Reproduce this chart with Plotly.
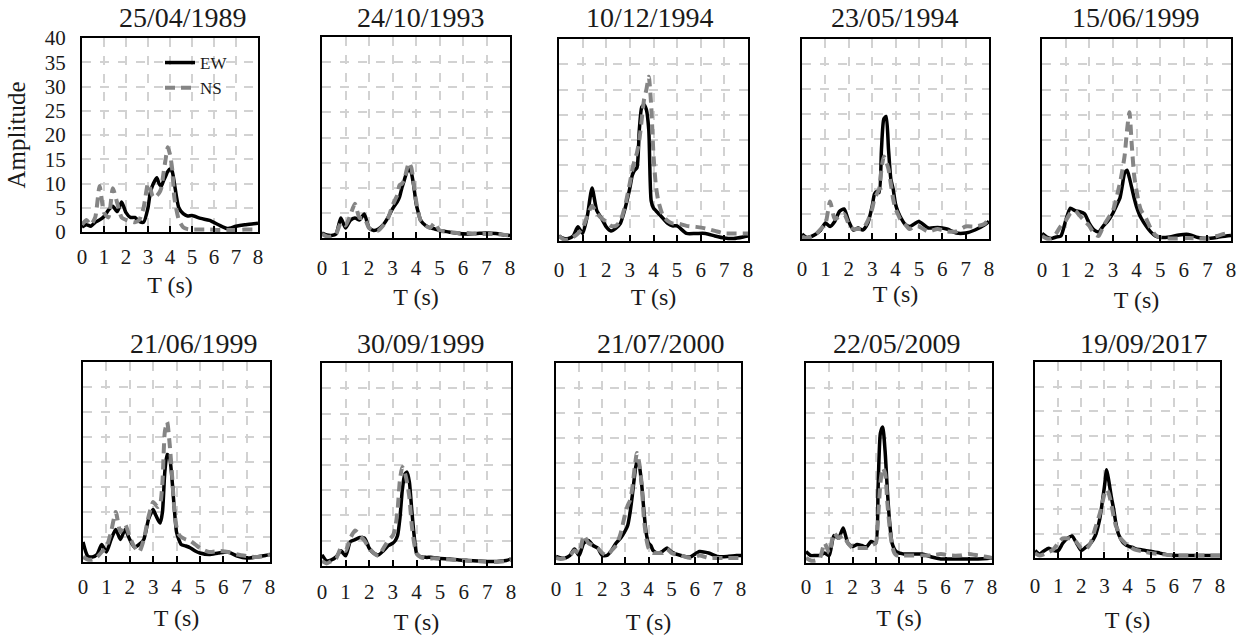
import plotly.graph_objects as go

# ---------------- data ----------------
T = [0, 0.2, 0.4, 0.6, 0.8, 1.0, 1.2, 1.4, 1.6, 1.8, 2.0, 2.2, 2.4, 2.6, 2.8,
     3.0, 3.1, 3.2, 3.3, 3.4, 3.5, 3.6, 3.7, 3.8, 3.9, 4.0, 4.1, 4.2,
     4.4, 4.6, 4.8, 5.0, 5.4, 5.8, 6.2, 6.6, 7.0, 7.4, 7.8, 8.0]

dates = ["25/04/1989", "24/10/1993", "10/12/1994", "23/05/1994", "15/06/1999",
         "21/06/1999", "30/09/1999", "21/07/2000", "22/05/2009", "19/09/2017"]

x_ticks = [0, 1, 2, 3, 4, 5, 6, 7, 8]
y_ticks = [0, 5, 10, 15, 20, 25, 30, 35, 40]

EW_1989 = [1.0, 1.5, 1.2, 2.0, 2.5, 3.2, 4.5, 5.3, 4.2, 6.2, 4.0, 3.0, 3.0, 2.2, 2.0,
           5.0, 8.0, 9.5, 10.5, 11.2, 10.0, 9.4, 10.5, 11.5, 12.5, 13.0, 12.5, 10.0,
           5.0, 3.8, 3.3, 3.4, 2.8, 2.4, 1.5, 0.7, 1.2, 1.5, 1.7, 1.8]
NS_1989 = [1.5, 2.5, 1.5, 3.0, 9.5, 4.0, 3.0, 9.0, 6.0, 3.0, 2.5, 2.2, 2.0, 2.5, 5.0,
           10.0, 9.0, 7.5, 7.0, 7.5, 8.0, 9.0, 12.0, 15.0, 17.5, 16.0, 13.0, 7.0,
           2.5, 1.0, 0.6, 0.5, 0.5, 0.5, 0.4, 0.4, 0.4, 0.5, 0.5, 0.5]

EW_1993 = [1.0, 0.6, 0.5, 0.8, 4.0, 2.0, 3.5, 4.0, 3.6, 4.8, 2.0, 1.5, 1.8, 2.6, 4.0,
           5.8, 6.5, 7.2, 8.2, 10.0, 11.5, 13.0, 13.9, 13.0, 10.5, 7.0, 5.0, 3.5,
           2.5, 2.0, 1.8, 1.5, 1.2, 0.9, 0.8, 0.9, 1.0, 0.9, 0.6, 0.5]
NS_1993 = [0.8, 0.3, 0.3, 0.8, 3.0, 2.5, 4.5, 6.8, 4.0, 4.0, 2.0, 1.5, 1.5, 2.5, 3.8,
           6.5, 7.5, 8.5, 10.5, 10.8, 11.5, 13.5, 15.0, 14.0, 11.0, 7.5, 5.0, 3.5,
           2.5, 2.0, 3.0, 1.5, 1.2, 1.0, 1.0, 0.8, 0.8, 0.8, 0.6, 0.5]

EW_1994a = [1.0, 0.5, 0.5, 1.0, 2.8, 1.5, 5.0, 10.5, 6.0, 4.5, 2.8, 2.0, 2.5, 3.5, 6.5,
            10.5, 13.0, 14.0, 14.5, 22.0, 26.5, 27.0, 26.0, 22.0, 8.0, 6.5, 6.0, 5.5,
            4.5, 3.5, 3.0, 3.0, 1.5, 1.5, 1.5, 1.0, 0.6, 0.5, 0.8, 1.0]
NS_1994a = [1.0, 0.3, 0.3, 0.8, 1.5, 2.5, 5.0, 7.0, 5.5, 4.5, 3.8, 3.0, 3.0, 4.0, 7.0,
            11.5, 14.0, 16.0, 17.5, 20.0, 24.0, 28.0, 30.0, 32.5, 27.0, 17.0, 11.0, 8.0,
            5.0, 4.0, 3.5, 3.5, 3.0, 2.8, 2.5, 2.0, 1.5, 1.5, 1.5, 1.5]

EW_1994b = [1.0, 0.3, 0.5, 1.0, 1.8, 3.2, 2.5, 3.5, 5.5, 6.0, 3.5, 1.8, 2.2, 1.8, 3.0,
            6.5, 9.0, 9.5, 9.3, 18.0, 24.0, 24.5, 18.0, 12.0, 10.0, 7.0, 5.5, 4.5,
            3.0, 2.5, 3.0, 3.5, 2.2, 2.3, 2.0, 1.2, 1.2, 1.8, 2.8, 3.5]
NS_1994b = [0.5, 0.2, 0.5, 1.0, 2.0, 3.0, 7.5, 4.0, 4.5, 5.0, 3.0, 2.0, 2.0, 2.0, 3.5,
            6.0, 8.0, 9.0, 10.0, 14.0, 16.5, 15.5, 14.0, 11.0, 8.0, 6.0, 5.0, 4.0,
            3.0, 2.0, 2.5, 2.5, 1.5, 2.0, 1.5, 1.5, 2.5, 2.5, 3.0, 4.0]

EW_1999a = [1.5, 0.8, 0.5, 0.8, 1.0, 4.0, 6.5, 6.0, 5.8, 5.4, 3.5, 2.2, 1.8, 3.0, 4.0,
            5.5, 6.5, 7.5, 8.5, 11.0, 13.5, 14.0, 12.5, 10.5, 8.5, 6.8, 5.5, 4.5,
            3.0, 1.8, 1.0, 0.7, 0.8, 1.2, 1.3, 0.7, 0.5, 0.7, 1.0, 1.1]
NS_1999a = [1.0, 0.5, 0.5, 1.5, 3.0, 4.0, 5.5, 6.0, 5.0, 4.0, 3.0, 1.5, 1.0, 3.0, 4.5,
            6.0, 7.5, 9.5, 11.5, 14.0, 17.0, 22.0, 25.5, 19.0, 13.0, 10.0, 7.5, 6.0,
            4.5, 2.5, 1.2, 0.7, 0.5, 0.5, 0.6, 0.5, 0.5, 1.0, 1.5, 1.5]

EW_1999b = [4.0, 1.2, 1.0, 1.5, 3.5, 2.0, 4.5, 6.5, 4.5, 6.5, 4.5, 3.0, 3.5, 4.5, 8.5,
            10.5, 9.5, 8.5, 7.8, 10.0, 18.0, 21.5, 21.0, 17.0, 11.0, 6.0, 4.5, 3.5,
            3.2, 2.8, 2.2, 1.8, 1.5, 1.8, 2.0, 1.2, 0.8, 1.0, 1.3, 1.5]
NS_1999b = [1.0, 0.5, 0.5, 1.0, 2.0, 3.0, 6.0, 10.0, 6.0, 7.5, 5.0, 3.0, 2.0, 4.5, 9.0,
            12.0, 11.5, 11.0, 11.5, 16.0, 26.0, 28.0, 24.0, 18.0, 11.0, 7.0, 5.5, 5.0,
            4.5, 4.2, 3.5, 2.8, 2.0, 2.2, 2.0, 1.5, 1.2, 1.0, 1.2, 1.5]

EW_1999c = [2.2, 1.0, 1.2, 1.8, 3.0, 2.0, 4.8, 5.2, 5.6, 5.5, 3.5, 2.5, 2.2, 3.0, 4.0,
            4.5, 5.0, 6.0, 9.5, 15.0, 18.0, 18.5, 16.5, 11.0, 6.0, 2.5, 2.0, 1.8,
            1.7, 1.7, 1.6, 1.5, 1.4, 1.2, 1.1, 1.0, 0.9, 0.9, 1.1, 1.4]
NS_1999c = [1.0, 0.5, 1.0, 1.5, 3.5, 3.0, 5.5, 7.0, 6.0, 5.0, 3.5, 2.5, 2.0, 3.5, 5.0,
            6.0, 7.5, 11.0, 17.0, 19.5, 18.5, 16.5, 13.5, 8.0, 4.5, 2.5, 2.0, 1.7,
            1.5, 1.5, 1.5, 1.4, 1.3, 1.1, 1.0, 1.0, 0.8, 0.8, 1.0, 1.2]

EW_2000 = [1.3, 1.0, 1.0, 1.5, 2.8, 1.5, 4.0, 4.5, 3.5, 3.0, 1.5, 1.5, 2.5, 4.0, 5.0,
           6.5, 7.5, 10.0, 13.5, 17.5, 20.5, 19.5, 16.0, 10.5, 6.0, 4.0, 3.5, 2.5,
           2.0, 2.3, 3.0, 2.2, 1.5, 1.2, 2.3, 2.0, 1.3, 1.3, 1.5, 1.5]
NS_2000 = [1.0, 0.8, 1.0, 1.5, 2.5, 2.0, 5.5, 4.0, 3.5, 3.0, 2.0, 1.5, 2.5, 3.5, 6.0,
           10.0, 11.5, 12.5, 15.0, 19.0, 22.0, 20.0, 16.0, 9.0, 5.0, 3.0, 2.5, 2.0,
           2.0, 2.0, 2.8, 2.0, 1.5, 1.0, 1.5, 1.0, 1.0, 1.0, 1.0, 1.0]

EW_2009 = [2.3, 1.5, 1.5, 1.5, 2.0, 1.5, 5.5, 5.0, 7.0, 4.0, 3.3, 3.7, 3.5, 3.2, 4.3,
           4.0, 15.0, 26.0, 27.2, 22.5, 14.5, 8.0, 4.0, 2.8, 2.2, 2.0, 1.9, 1.8,
           1.8, 1.8, 1.8, 1.8, 1.2, 0.8, 0.8, 0.8, 0.8, 0.8, 0.9, 1.0]
NS_2009 = [1.0, 0.5, 0.5, 1.0, 4.0, 2.0, 6.0, 5.0, 5.5, 4.0, 3.0, 3.0, 3.0, 3.0, 3.5,
           4.0, 9.0, 16.0, 19.0, 18.0, 12.0, 7.0, 3.5, 2.0, 1.5, 1.5, 1.5, 1.5,
           1.5, 1.5, 1.5, 1.5, 1.5, 1.8, 1.5, 1.5, 1.8, 1.5, 1.2, 1.0]

EW_2017 = [1.5, 0.8, 1.5, 2.0, 1.5, 1.5, 3.0, 4.0, 4.5, 3.0, 1.5, 2.2, 3.0, 4.5, 8.0,
           14.5, 18.0, 15.5, 12.5, 10.0, 7.0, 5.0, 4.0, 3.2, 2.8, 2.5, 2.3, 2.2,
           1.8, 1.7, 1.5, 1.4, 1.0, 0.6, 0.5, 0.5, 0.5, 0.5, 0.5, 0.5]
NS_2017 = [1.0, 0.5, 0.8, 1.2, 1.8, 3.0, 4.0, 4.0, 4.0, 3.2, 2.0, 1.8, 3.0, 6.0, 9.0,
           13.0, 14.0, 13.0, 11.0, 8.5, 6.5, 5.5, 4.0, 3.5, 3.0, 2.7, 2.3, 2.0,
           1.6, 1.4, 1.2, 1.0, 0.8, 0.6, 0.5, 0.5, 0.5, 0.5, 0.5, 0.5]

EW_series = [EW_1989, EW_1993, EW_1994a, EW_1994b, EW_1999a,
             EW_1999b, EW_1999c, EW_2000, EW_2009, EW_2017]
NS_series = [NS_1989, NS_1993, NS_1994a, NS_1994b, NS_1999a,
             NS_1999b, NS_1999c, NS_2000, NS_2009, NS_2017]

# ---------------- layout geometry (page pixels) ----------------
W, H = 1246, 637


def px(x):
    return x / W


def py(y):
    return 1 - y / H


# left, right, top, bottom of each panel's plot area
boxes = [(82, 258, 38, 232), (322, 510, 37, 238), (559, 748, 39, 241),
         (802, 989, 39, 239), (1042, 1231, 39, 241),
         (83, 270, 362, 562), (322, 511, 363, 566), (556, 741, 363, 563),
         (806, 992, 363, 563), (1035, 1220, 362, 558)]
title_pos = [(183, 18), (421, 18), (650, 18), (895, 18), (1136, 18),
             (194, 343), (421, 343), (661, 343), (897, 343), (1144, 343)]
label_standoff = [5, 10, 9, 10, 9, 5, 6, 6, 4, 8]
title_standoff = [8, 9, 7, 4, 10, 11, 10, 13, 11, 14]

FONT = "Liberation Serif, Times New Roman, serif"
TXT = "#1a1a1a"
GRID = "#d2d2d2"

fig = go.Figure()
layout = dict(
    width=W, height=H,
    margin=dict(l=0, r=0, t=0, b=0),
    paper_bgcolor="white", plot_bgcolor="white",
    font=dict(family=FONT, color=TXT, size=21),
    showlegend=True,
    legend=dict(x=px(160), y=py(45), xanchor="left", yanchor="top",
                bgcolor="rgba(0,0,0,0)", font=dict(size=17, family=FONT, color=TXT),
                tracegroupgap=0, itemwidth=30),
    annotations=[],
)

for i, (L, R, Tp, B) in enumerate(boxes):
    n = i + 1
    xa = "x" if n == 1 else f"x{n}"
    ya = "y" if n == 1 else f"y{n}"
    fig.add_trace(go.Scatter(
        x=T, y=EW_series[i], xaxis=xa, yaxis=ya, mode="lines", name="EW",
        legendgroup="EW", showlegend=(n == 1),
        line=dict(color="black", width=3.5, shape="spline", smoothing=0.6)))
    fig.add_trace(go.Scatter(
        x=T, y=NS_series[i], xaxis=xa, yaxis=ya, mode="lines", name="NS",
        legendgroup="NS", showlegend=(n == 1),
        line=dict(color="#858585", width=4, dash="10px,6px", shape="spline", smoothing=0.6)))

    xkey = "xaxis" if n == 1 else f"xaxis{n}"
    ykey = "yaxis" if n == 1 else f"yaxis{n}"
    layout[xkey] = dict(
        domain=[px(L), px(R)], anchor=ya, range=[0, 8],
        tickvals=x_ticks, ticks="inside", ticklen=6, tickwidth=2, tickcolor="black",
        ticklabelstandoff=label_standoff[i], tickfont=dict(size=21, family=FONT, color=TXT),
        showline=True, linecolor="black", linewidth=2, mirror=True,
        showgrid=True, gridcolor=GRID, gridwidth=2, griddash="dash",
        zeroline=False, fixedrange=True, automargin=False,
        title=dict(text="T (s)", font=dict(size=24, family=FONT, color=TXT),
                   standoff=title_standoff[i]),
    )
    layout[ykey] = dict(
        domain=[py(B), py(Tp)], anchor=xa, range=[0, 40],
        tickvals=y_ticks, ticks="", showticklabels=(n == 1),
        ticklabelstandoff=10, tickfont=dict(size=21, family=FONT, color=TXT),
        showline=True, linecolor="black", linewidth=2, mirror=True,
        showgrid=True, gridcolor=GRID, gridwidth=2, griddash="dash",
        zeroline=False, fixedrange=True, automargin=False,
        title=dict(text="Amplitude" if n == 1 else "",
                   font=dict(size=25, family=FONT, color=TXT), standoff=12),
    )
    cx, cy = title_pos[i]
    layout["annotations"].append(dict(
        text=dates[i], x=px(cx), y=py(cy), xref="paper", yref="paper",
        xanchor="center", yanchor="middle", showarrow=False, borderpad=0,
        font=dict(size=28, family=FONT, color=TXT)))

fig.update_layout(**layout)
fig.write_html(
    "out.html",
    config={"displayModeBar": False, "staticPlot": True},
    post_script="document.body.style.margin='0';document.body.style.overflow='hidden';")
